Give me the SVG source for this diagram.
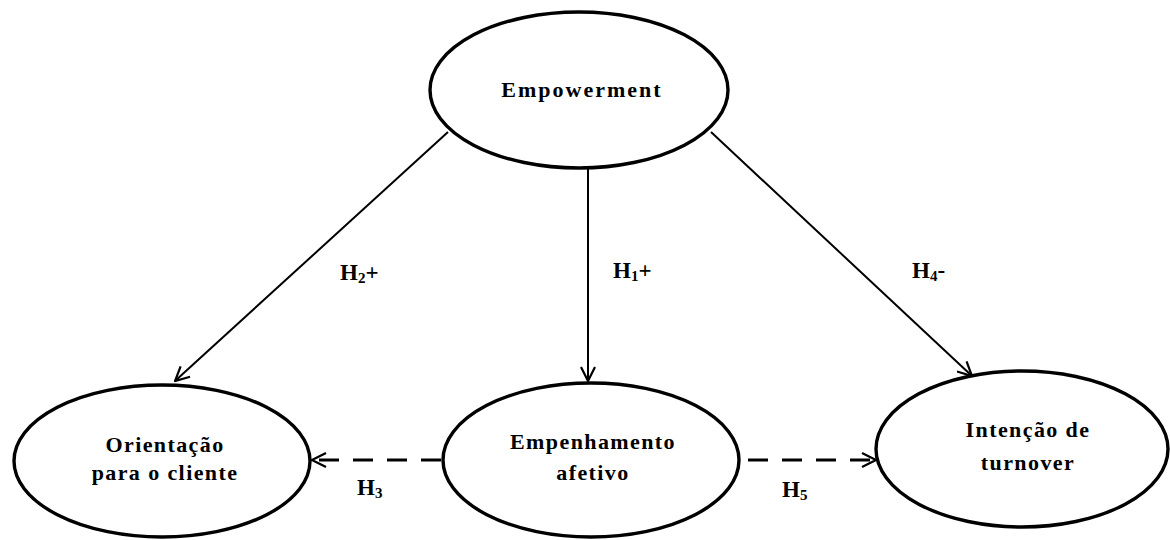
<svg xmlns="http://www.w3.org/2000/svg" width="1170" height="540" viewBox="0 0 1170 540">
<style>
.node ellipse{fill:#fff;stroke:#000;stroke-width:3.4}
.node text{font-family:"Liberation Serif","Times New Roman",serif;font-weight:bold;font-size:22px;text-anchor:middle;fill:#000;letter-spacing:1.4px}
.lbl{font-family:"Liberation Serif","Times New Roman",serif;font-weight:bold;font-size:23px;fill:#000}
.sub{font-size:15px}
.solid{fill:none;stroke:#000;stroke-width:2}
.dash{fill:none;stroke:#000;stroke-width:3;stroke-dasharray:20 14}
</style>
<defs>
<marker id="arr" viewBox="0 0 16 16" refX="15" refY="8" markerWidth="16" markerHeight="16" markerUnits="userSpaceOnUse" orient="auto">
<path d="M1,1 L15,8 L1,15" fill="none" stroke="#000" stroke-width="2.2"/>
</marker>
</defs>
<rect width="1170" height="540" fill="#fff"/>
<g id="connectors">
<line class="solid" x1="448" y1="132" x2="175" y2="381" marker-end="url(#arr)"/>
<line class="solid" x1="588" y1="168" x2="588" y2="381" marker-end="url(#arr)"/>
<line class="solid" x1="711" y1="132" x2="972" y2="376" marker-end="url(#arr)"/>
<line class="dash" x1="441" y1="460" x2="312" y2="460" marker-end="url(#arr)"/>
<line class="dash" x1="748" y1="460" x2="876" y2="460" marker-end="url(#arr)"/>
<text class="lbl" x="340" y="280">H<tspan class="sub" dy="3">2</tspan><tspan dy="-3">+</tspan></text>
<text class="lbl" x="613" y="278">H<tspan class="sub" dy="3">1</tspan><tspan dy="-3">+</tspan></text>
<text class="lbl" x="912" y="278">H<tspan class="sub" dy="3">4</tspan><tspan dy="-3">-</tspan></text>
<text class="lbl" x="357" y="495">H<tspan class="sub" dy="3">3</tspan></text>
<text class="lbl" x="782" y="497">H<tspan class="sub" dy="3">5</tspan></text>
</g>
<g id="empowerment" class="node">
<ellipse cx="579" cy="90" rx="149" ry="78"/>
<text x="582" y="97" style="letter-spacing:2px">Empowerment</text>
</g>
<g id="orientacao" class="node">
<ellipse cx="162" cy="461" rx="148" ry="76"/>
<text x="165" y="452">Orientação</text>
<text x="165" y="480">para o cliente</text>
</g>
<g id="empenhamento" class="node">
<ellipse cx="591" cy="460" rx="148" ry="77"/>
<text x="593" y="449">Empenhamento</text>
<text x="593" y="480">afetivo</text>
</g>
<g id="intencao" class="node">
<ellipse cx="1022" cy="449" rx="146" ry="78"/>
<text x="1028" y="437">Intenção de</text>
<text x="1028" y="470">turnover</text>
</g>
</svg>
